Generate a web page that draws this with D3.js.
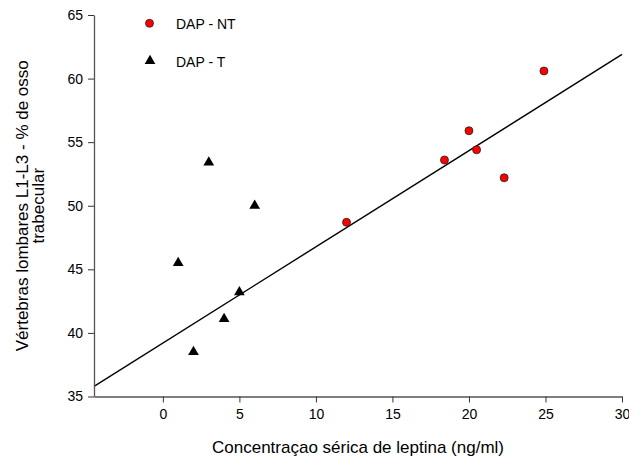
<!DOCTYPE html>
<html>
<head>
<meta charset="utf-8">
<script src="https://cdn.jsdelivr.net/npm/d3@7"></script>
<style>
  body { margin: 0; background: #fff; }
  svg { font-family: "Liberation Sans", Arial, sans-serif; }
</style>
</head>
<body>
<div id="chart"></div>
<script>
// DAP - NT (circles)
var ntX = [12, 18.4, 20, 20.5, 22.3, 24.9];
var ntY = [48.7, 53.6, 55.9, 54.4, 52.2, 60.6];
// DAP - T (triangles)
var tX = [1, 2, 3, 4, 5, 6];
var tY = [45.5, 38.5, 53.4, 41.1, 43.2, 50.0];
// regression line endpoints
var lineX = [-4.5, 30];
var lineY = [35.8, 61.9];

var xTicks = [0, 5, 10, 15, 20, 25, 30];
var yTicks = [35, 40, 45, 50, 55, 60, 65];

var width = 629, height = 461;
var margin = { top: 15, right: 7, bottom: 64.5, left: 94 };

var svg = d3.select("#chart").append("svg")
  .attr("width", width)
  .attr("height", height);

var x = d3.scaleLinear().domain([-4.5, 30]).range([margin.left, 622]);
var y = d3.scaleLinear().domain([35, 65]).range([height - margin.bottom, margin.top]);

// regression line
svg.append("line")
  .attr("x1", x(lineX[0])).attr("y1", y(lineY[0]))
  .attr("x2", x(lineX[1])).attr("y2", y(lineY[1]))
  .attr("stroke", "#000")
  .attr("stroke-width", 1.4);

// axes
var xAxis = svg.append("g")
  .attr("transform", "translate(0," + y(35) + ")")
  .call(d3.axisBottom(x).tickValues(xTicks).tickSize(6).tickSizeOuter(0).tickPadding(7));
var yAxis = svg.append("g")
  .attr("transform", "translate(" + x(-4.5) + ",0)")
  .call(d3.axisLeft(y).tickValues(yTicks).tickSize(6).tickSizeOuter(0).tickPadding(5));

[xAxis, yAxis].forEach(function (g) {
  g.select(".domain").attr("stroke", "#555").attr("stroke-width", 1.3);
  g.selectAll(".tick line").attr("stroke", "#333");
  g.selectAll(".tick text").attr("fill", "#000")
    .style("font-size", "14px")
    .style("font-family", "'Liberation Sans', Arial, sans-serif");
});

// points: circles
svg.append("g").selectAll("circle")
  .data(ntX.map(function (d, i) { return [d, ntY[i]]; }))
  .enter().append("circle")
  .attr("cx", function (d) { return x(d[0]); })
  .attr("cy", function (d) { return y(d[1]); })
  .attr("r", 4)
  .attr("fill", "#ff0000")
  .attr("stroke", "#222")
  .attr("stroke-width", 0.8);

// points: triangles
var tri = d3.symbol().type(d3.symbolTriangle).size(50);
svg.append("g").selectAll("path")
  .data(tX.map(function (d, i) { return [d, tY[i]]; }))
  .enter().append("path")
  .attr("d", tri)
  .attr("transform", function (d) { return "translate(" + x(d[0]) + "," + y(d[1]) + ")"; })
  .attr("fill", "#000");

// legend
svg.append("circle").attr("cx", 149.5).attr("cy", 23.3).attr("r", 4)
  .attr("fill", "#ff0000").attr("stroke", "#222").attr("stroke-width", 0.8);
svg.append("text").attr("x", 176).attr("y", 28.5).text("DAP - NT")
  .style("font-size", "14px");
svg.append("path").attr("d", tri)
  .attr("transform", "translate(150,61)").attr("fill", "#000");
svg.append("text").attr("x", 176).attr("y", 66.5).text("DAP - T")
  .style("font-size", "14px");

// axis titles
svg.append("text")
  .attr("x", (x(-4.5) + x(30)) / 2)
  .attr("y", 453)
  .attr("text-anchor", "middle")
  .style("font-size", "17px")
  .text("Concentraçao sérica de leptina (ng/ml)");

var yt = svg.append("text")
  .attr("transform", "translate(28," + ((y(35) + y(65)) / 2) + ") rotate(-90)")
  .attr("text-anchor", "middle")
  .style("font-size", "17px");
yt.append("tspan").attr("x", 0).attr("dy", 0).text("Vértebras lombares L1-L3 - % de osso");
yt.append("tspan").attr("x", 0).attr("dy", 16).text("trabecular");
</script>
</body>
</html>
